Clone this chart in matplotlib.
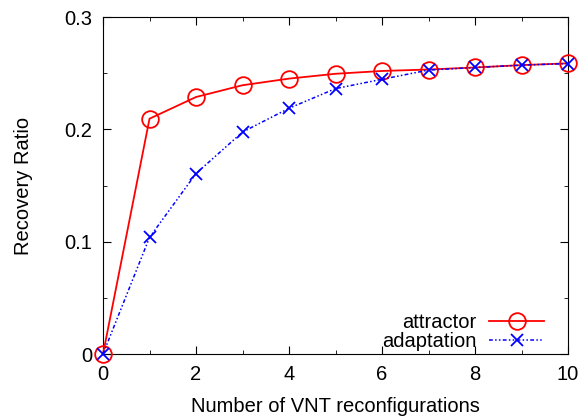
import matplotlib
matplotlib.use("Agg")
import matplotlib.pyplot as plt
from matplotlib.ticker import MultipleLocator

plt.rcParams["font.family"] = ["Liberation Sans", "DejaVu Sans"]

# data
reconfigs = [0, 1, 2, 3, 4, 5, 6, 7, 8, 9, 10]
attractor = [0.0, 0.2095, 0.2288, 0.2393, 0.2452, 0.2495, 0.2520, 0.2533, 0.2551, 0.2572, 0.2588]
adaptation = [0.0, 0.1038, 0.1607, 0.1976, 0.2188, 0.2363, 0.2446, 0.2528, 0.2551, 0.2572, 0.2586]

fs = 14.5
fig = plt.figure(figsize=(5.83, 4.16), dpi=100)
ax = fig.add_axes([0.1767, 0.149, 0.7976, 0.810])

ax.plot(reconfigs, attractor, color="red", lw=1.3, marker="o", ms=12,
        mfc="none", mew=1.3, label="attractor", clip_on=False, zorder=3)
ax.plot(reconfigs, adaptation, color="blue", lw=1.1, dashes=(2.5, 1.5, 1, 1.5, 1, 1.5),
        marker="x", ms=8, mew=1.3, label="adaptation", clip_on=False, zorder=4)

ax.set_xlim(0, 10)
ax.set_ylim(0, 0.3)
ax.xaxis.set_major_locator(MultipleLocator(2))
ax.xaxis.set_minor_locator(MultipleLocator(1))
ax.yaxis.set_minor_locator(MultipleLocator(0.05))
ax.set_yticks([0, 0.1, 0.2, 0.3])
ax.set_yticklabels(["0", "0.1", "0.2", "0.3"])
ax.tick_params(which="both", direction="in", top=True, right=True, labelsize=fs)
ax.tick_params(which="major", length=6, pad=8)
ax.tick_params(which="minor", length=3)

ax.set_xlabel("Number of VNT reconfigurations", fontsize=fs, labelpad=9)
ax.set_ylabel("Recovery Ratio", fontsize=fs, labelpad=22)

ax.legend(loc="lower right", bbox_to_anchor=(0.948, 0.008), frameon=False,
          markerfirst=False, fontsize=fs, handlelength=2.7, labelspacing=0.0,
          borderaxespad=0, borderpad=0, handletextpad=0.65)

fig.savefig("out.png", dpi=100)
